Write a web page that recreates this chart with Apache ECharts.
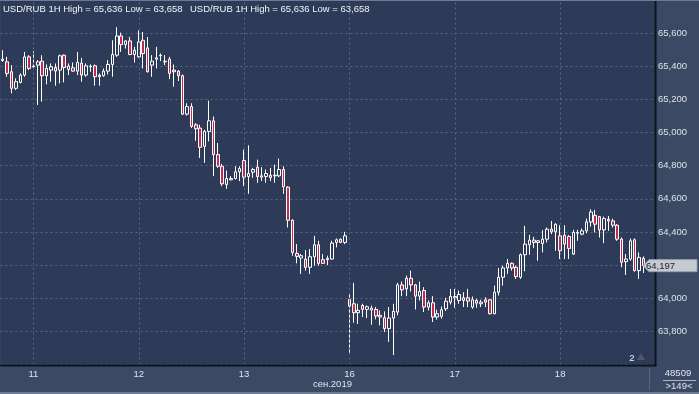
<!DOCTYPE html>
<html><head><meta charset="utf-8">
<script src="https://cdn.jsdelivr.net/npm/echarts@6/dist/echarts.min.js"></script>
<style>html,body{margin:0;padding:0;background:#3c4964;}#c{width:699px;height:394px;}</style>
</head><body><div id="c"></div>
<script>
// ---- data ----
const dayLabels   = ['10','11','12','13','16','17','18'];
const dayFirstHour= [17,0,0,0,0,0,0];
const dayLastHour = [23,23,23,23,23,23,19];
const emptySlots  = 2;
const monthLabel  = 'сен.2019';
const monthDay    = '16';
const headerText  = 'USD/RUB 1H High = 65,636 Low = 63,658';
const yTicks      = [63.8,64.0,64.2,64.4,64.6,64.8,65.0,65.2,65.4,65.6];
const opens = [
65.435,65.427,65.367,65.267,65.303,65.347,65.457,65.397,65.407,65.431,
65.343,65.377,65.393,65.377,65.467,65.381,65.391,65.371,65.419,65.347,
65.397,65.403,65.347,65.343,65.371,65.411,65.467,65.583,65.531,65.553,
65.471,65.457,65.557,65.511,65.407,65.443,65.463,65.427,65.443,65.377,
65.371,65.343,65.111,65.157,65.047,65.027,64.917,65.007,65.071,64.867,
64.797,64.687,64.715,64.723,64.763,64.831,64.735,64.761,64.791,64.731,
64.735,64.743,64.739,64.739,64.777,64.671,64.471,64.271,64.243,64.237,
64.187,64.251,64.323,64.233,64.233,64.237,64.337,64.357,64.337,63.993,
63.967,63.913,63.957,63.933,63.929,63.933,63.897,63.883,63.817,63.881,
63.917,64.081,64.057,64.121,64.081,64.013,64.047,63.947,63.973,63.887,
63.891,63.937,63.977,64.003,63.987,64.003,64.003,63.947,63.987,63.967,
63.991,63.991,63.907,64.037,64.127,64.183,64.211,64.187,64.127,64.263,
64.323,64.351,64.337,64.331,64.357,64.417,64.401,64.377,64.381,64.373,
64.267,64.393,64.387,64.407,64.461,64.501,64.493,64.413,64.477,64.467,
64.441,64.357,64.221,64.237,64.353,64.167,64.241];
const closes = [
65.443,65.357,65.267,65.307,65.347,65.457,65.387,65.401,65.427,65.343,
65.387,65.397,65.371,65.463,65.393,65.401,65.371,65.423,65.347,65.403,
65.401,65.337,65.337,65.371,65.411,65.471,65.583,65.531,65.553,65.471,
65.497,65.547,65.477,65.367,65.431,65.451,65.467,65.431,65.357,65.367,
65.343,65.111,65.157,65.037,65.023,64.911,65.007,65.071,64.867,64.797,
64.691,64.723,64.723,64.763,64.783,64.731,64.753,64.777,64.735,64.739,
64.753,64.729,64.743,64.777,64.673,64.471,64.277,64.253,64.257,64.187,
64.251,64.323,64.211,64.211,64.241,64.333,64.353,64.337,64.377,63.953,
63.913,63.927,63.933,63.949,63.941,63.893,63.887,63.817,63.881,63.921,
64.081,64.051,64.121,64.081,64.013,64.041,63.947,63.973,63.887,63.907,
63.931,63.983,64.011,64.011,64.023,63.987,63.983,63.991,63.971,63.977,
63.977,63.907,64.037,64.127,64.183,64.211,64.183,64.131,64.263,64.327,
64.351,64.337,64.347,64.357,64.417,64.401,64.447,64.287,64.327,64.301,
64.397,64.397,64.407,64.461,64.521,64.447,64.413,64.481,64.467,64.441,
64.357,64.217,64.237,64.347,64.167,64.247,64.197];
const lows = [
65.427,65.337,65.237,65.257,65.297,65.337,65.377,65.387,65.167,65.187,
65.291,65.307,65.283,65.297,65.303,65.347,65.367,65.347,65.307,65.337,
65.367,65.283,65.283,65.337,65.351,65.337,65.457,65.487,65.507,65.467,
65.423,65.451,65.387,65.363,65.337,65.387,65.431,65.407,65.323,65.277,
65.311,65.107,65.103,65.027,64.951,64.847,64.817,64.947,64.737,64.787,
64.677,64.661,64.711,64.717,64.707,64.677,64.631,64.727,64.697,64.707,
64.697,64.707,64.697,64.731,64.631,64.427,64.257,64.211,64.147,64.167,
64.147,64.197,64.197,64.207,64.201,64.233,64.307,64.333,64.327,63.667,
63.853,63.845,63.887,63.881,63.841,63.873,63.837,63.797,63.737,63.658,
63.897,64.013,64.013,64.041,63.933,63.987,63.917,63.927,63.857,63.871,
63.877,63.923,63.963,63.943,63.967,63.947,63.947,63.937,63.943,63.947,
63.947,63.903,63.903,64.017,64.077,64.147,64.167,64.117,64.117,64.163,
64.263,64.303,64.227,64.277,64.337,64.387,64.287,64.237,64.237,64.237,
64.261,64.347,64.381,64.393,64.433,64.397,64.367,64.333,64.407,64.427,
64.347,64.187,64.141,64.227,64.161,64.117,64.153];
const highs = [
65.497,65.457,65.407,65.327,65.357,65.487,65.467,65.491,65.437,65.467,
65.411,65.417,65.417,65.471,65.471,65.417,65.423,65.487,65.451,65.417,
65.411,65.411,65.357,65.387,65.437,65.557,65.636,65.603,65.557,65.577,
65.517,65.617,65.607,65.577,65.467,65.517,65.477,65.467,65.457,65.411,
65.377,65.351,65.177,65.177,65.057,65.047,65.017,65.193,65.097,64.937,
64.811,64.771,64.737,64.797,64.797,64.897,64.923,64.787,64.837,64.791,
64.777,64.787,64.807,64.843,64.797,64.677,64.477,64.327,64.267,64.291,
64.297,64.377,64.347,64.267,64.257,64.347,64.361,64.361,64.401,64.027,
64.093,63.967,63.967,63.957,63.957,63.947,63.927,63.921,63.947,63.967,
64.093,64.101,64.137,64.167,64.087,64.101,64.067,63.987,64.013,63.931,
63.951,64.003,64.057,64.057,64.047,64.037,64.057,64.011,63.997,63.991,
64.007,63.997,64.077,64.183,64.197,64.237,64.217,64.197,64.271,64.437,
64.383,64.371,64.351,64.411,64.427,64.467,64.453,64.441,64.441,64.381,
64.413,64.413,64.421,64.481,64.537,64.533,64.497,64.493,64.497,64.481,
64.447,64.367,64.267,64.361,64.361,64.277,64.253];
const barsInfo = '48509';
const barsCount = '>149<';
const cornerMark = '2';

// ---- build ----
const categories = [];
dayLabels.forEach((d, k) => {
  for (let h = dayFirstHour[k]; h <= dayLastHour[k]; h++) {
    categories.push(d + ' ' + String(h).padStart(2, '0') + ':00');
  }
});
for (let e = 0; e < emptySlots; e++) categories.push('empty' + e);
const candles = categories.map((c, i) =>
  i < opens.length ? [opens[i], closes[i], lows[i], highs[i]] : '-');
const dayStarts = categories.filter(c => / 00:00$/.test(c));

const FONT = '"Liberation Sans", Arial, sans-serif';
const PLOT_BG = '#2e3b58';
const STRIP_BG = '#3c4964';
const GRID_C = '#5a6784';

const chart = echarts.init(document.getElementById('c'), null, {renderer: 'canvas'});
chart.setOption({
  animation: false,
  backgroundColor: STRIP_BG,
  grid: {left: 0.5, right: 44.5, top: -2.14, bottom: 29.4, show: true,
         backgroundColor: PLOT_BG, borderWidth: 0},
  xAxis: {
    type: 'category', data: categories, boundaryGap: true,
    axisLine: {show: false}, axisTick: {show: false}, splitLine: {show: false},
    axisLabel: {
      interval: (idx, val) => / 00:00$/.test(val),
      formatter: v => v.split(' ')[0],
      color: '#dfe4ec', fontSize: 9.5, fontFamily: FONT, margin: 5
    }
  },
  yAxis: {
    type: 'value', position: 'right', min: 63.6, max: 65.8, interval: 0.2, scale: true,
    axisLine: {show: false}, axisTick: {show: false},
    splitLine: {show: true, lineStyle: {color: GRID_C, type: [2, 3], width: 1}},
    axisLabel: {
      formatter: v => (yTicks.some(t => Math.abs(t - v) < 1e-6) ? v.toFixed(3).replace('.', ',') : ''),
      color: '#dde2ea', fontSize: 9.5, fontFamily: FONT, margin: 3.5
    }
  },
  series: [
    {
      type: 'line', data: [], z: 1, silent: true,
      markLine: {
        silent: true, symbol: 'none', animation: false,
        label: {show: false},
        lineStyle: {color: GRID_C, type: [2, 3], width: 1},
        data: dayStarts.map(c => ({xAxis: c}))
      }
    },
    {
      type: 'candlestick', data: candles, barWidth: 3, z: 3,
      itemStyle: {color: PLOT_BG, color0: '#c8284f', borderColor: '#ffffff',
                  borderColor0: '#ffffff', borderWidth: 1}
    }
  ]
});

const lastClose = closes[closes.length - 1];
const yLast = chart.convertToPixel({yAxisIndex: 0}, lastClose);
const xMonth = chart.convertToPixel({xAxisIndex: 0}, monthDay + ' 00:00');
const txt = (t, x, y, fill, align, size) => ({
  type: 'text', x, y, z: 100,
  style: {text: t, fill, fontSize: size || 9.5, fontFamily: FONT, align: align || 'left', verticalAlign: 'middle'}
});
chart.setOption({
  graphic: [
    {type: 'rect', z: 90, shape: {x: 654.5, y: 0, width: 2, height: 366}, style: {fill: '#0d121c'}},
    {type: 'rect', z: 90, shape: {x: 0, y: 364.6, width: 656.5, height: 2}, style: {fill: '#0d121c'}},
    {type: 'rect', z: 90, shape: {x: 0, y: 0, width: 699, height: 1}, style: {fill: '#6e7a92'}},
    {type: 'rect', z: 90, shape: {x: 0, y: 392, width: 699, height: 2}, style: {fill: '#6e7a92'}},
    {type: 'rect', z: 90, shape: {x: 649, y: 368, width: 1, height: 22}, style: {fill: '#5b6781'}},
    {type: 'rect', z: 90, shape: {x: 663, y: 380, width: 33, height: 1}, style: {fill: '#aab3c3'}},
    txt(headerText, 3, 9, '#f2f4f8'),
    txt(headerText, 190, 9, '#f2f4f8'),
    txt(monthLabel, xMonth - 17, 384, '#dfe4ec', 'center'),
    txt(barsInfo, 678, 373, '#dfe4ec', 'center'),
    txt(barsCount, 679, 386, '#dfe4ec', 'center'),
    txt(cornerMark, 632, 358, '#f2f4f8', 'center'),
    {type: 'polygon', z: 95, shape: {points: [[637, 360], [641, 353], [645, 360]]}, style: {fill: '#4c5872'}},
    {type: 'polygon', z: 95, shape: {points: [[643, yLast], [649, yLast - 6], [697, yLast - 6], [697, yLast + 6], [649, yLast + 6]]},
     style: {fill: '#c6cad2', stroke: '#9aa2b0', lineWidth: 1}},
    txt(lastClose.toFixed(3).replace('.', ','), 646, yLast + 0.5, '#1c1f26', 'left')
  ]
});
</script>
</body></html>
